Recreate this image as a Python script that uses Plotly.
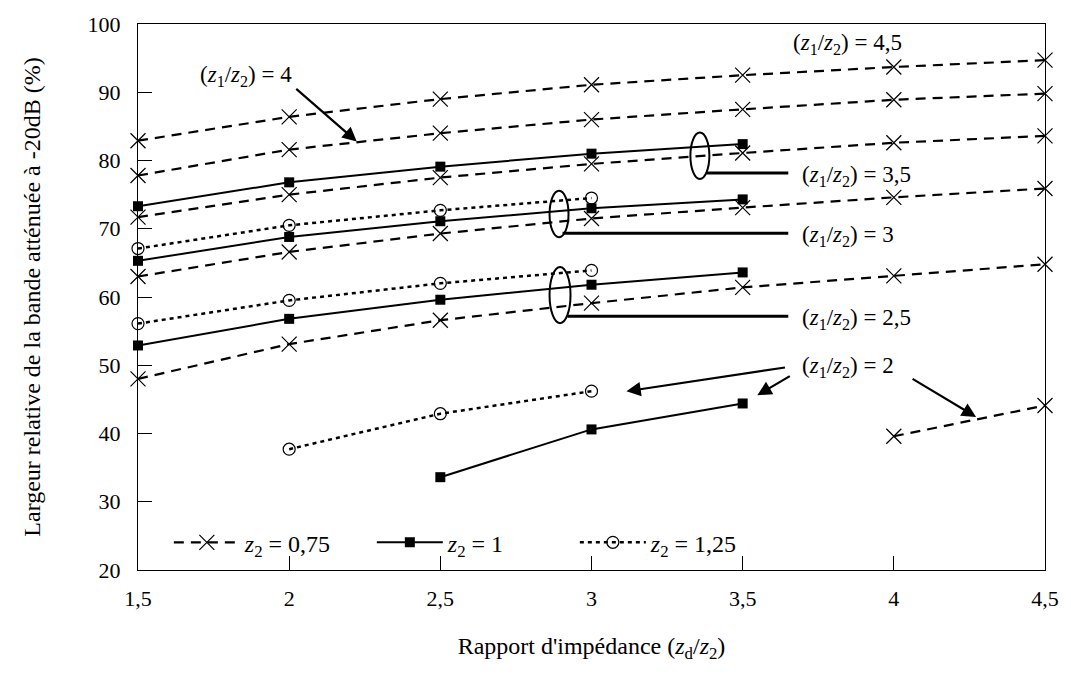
import plotly.graph_objects as go

# ---------------- data ----------------
x_all = [1.5, 2, 2.5, 3, 3.5, 4, 4.5]

# z2 = 0,75 (dashed, crosses) for each z1/z2
d075_45 = [82.9, 86.4, 89.0, 91.1, 92.5, 93.7, 94.7]
d075_4 = [77.8, 81.6, 84.0, 86.0, 87.5, 88.9, 89.8]
d075_35 = [71.7, 75.0, 77.5, 79.5, 81.1, 82.6, 83.6]
d075_3 = [63.0, 66.6, 69.3, 71.5, 73.1, 74.6, 75.9]
d075_25 = [48.0, 53.1, 56.6, 59.1, 61.4, 63.1, 64.8]
x075_2 = [4, 4.5]
d075_2 = [39.6, 44.1]

# z2 = 1 (solid, squares)
x1_long = [1.5, 2, 2.5, 3, 3.5]
d1_35 = [73.3, 76.8, 79.1, 81.0, 82.4]
d1_3 = [65.3, 68.8, 71.1, 73.0, 74.3]
d1_25 = [52.9, 56.8, 59.6, 61.8, 63.6]
x1_2 = [2.5, 3, 3.5]
d1_2 = [33.6, 40.6, 44.4]

# z2 = 1,25 (dotted, circles)
x125_long = [1.5, 2, 2.5, 3]
d125_3 = [67.1, 70.5, 72.7, 74.5]
d125_25 = [56.1, 59.5, 62.0, 63.9]
x125_2 = [2, 2.5, 3]
d125_2 = [37.7, 42.9, 46.2]

x_ticks = [1.5, 2, 2.5, 3, 3.5, 4, 4.5]
x_ticktext = ["1,5", "2", "2,5", "3", "3,5", "4", "4,5"]
y_ticks = [20, 30, 40, 50, 60, 70, 80, 90, 100]

FONT = "Liberation Serif"

# ---------------- layout geometry helpers (for annotations) ----------------
L, R, T, B = 138, 25, 17, 105
W, H = 1071, 675
X0, X1 = 1.5, 4.5
Y0, Y1 = 20, 100
PW, PH = W - L - R, H - T - B


def px2x(px):
    return X0 + (px - L) / PW * (X1 - X0)


def py2y(py):
    return Y0 + (T + PH - py) / PH * (Y1 - Y0)


fig = go.Figure()

dash_075 = "10px,7px"
dot_125 = "4px,4px"


def add(xs, ys, kind, show):
    if kind == "075":
        fig.add_trace(go.Scatter(
            x=xs, y=ys, mode="lines+markers", cliponaxis=False,
            line=dict(color="black", width=2.2, dash=dash_075),
            marker=dict(symbol="x-thin", size=15, line=dict(color="black", width=1.2)),
            name="<i>z</i><sub>2</sub> = 0,75", legendgroup="075", showlegend=show))
    elif kind == "1":
        fig.add_trace(go.Scatter(
            x=xs, y=ys, mode="lines+markers", cliponaxis=False,
            line=dict(color="black", width=2),
            marker=dict(symbol="square", size=10, color="black"),
            name="<i>z</i><sub>2</sub> = 1", legendgroup="1", showlegend=show))
    else:
        fig.add_trace(go.Scatter(
            x=xs, y=ys, mode="lines+markers", cliponaxis=False,
            line=dict(color="black", width=2.5, dash=dot_125),
            marker=dict(symbol="circle-open", size=12, color="black", line=dict(width=1.2)),
            name="<i>z</i><sub>2</sub> = 1,25", legendgroup="125", showlegend=show))


add(x_all, d075_45, "075", True)
add(x_all, d075_4, "075", False)
add(x_all, d075_35, "075", False)
add(x_all, d075_3, "075", False)
add(x_all, d075_25, "075", False)
add(x075_2, d075_2, "075", False)

add(x1_long, d1_35, "1", True)
add(x1_long, d1_3, "1", False)
add(x1_long, d1_25, "1", False)
add(x1_2, d1_2, "1", False)

add(x125_long, d125_3, "125", True)
add(x125_long, d125_25, "125", False)
add(x125_2, d125_2, "125", False)

# ---------------- annotations ----------------
def lab(val):
    return "(<i>z</i><sub>1</sub>/<i>z</i><sub>2</sub>) = " + val


labels = [("4", 198, 70), ("4,5", 792, 37), ("3,5", 801, 171), ("3", 801, 232),
          ("2,5", 801, 316), ("2", 801, 364)]
annots = []
for v, px, py in labels:
    annots.append(dict(x=px2x(px), y=py2y(py), xref="x", yref="y", text=lab(v),
                       showarrow=False, xanchor="left", yanchor="middle",
                       font=dict(family=FONT, size=23, color="black")))

arrows = [((357, 136), (295, 82)), ((627, 389), (787, 365)),
          ((758, 393), (792, 373)), ((977, 415), (912, 376))]
for (hx, hy), (tx, ty) in arrows:
    annots.append(dict(x=px2x(hx), y=py2y(hy), xref="x", yref="y", text="",
                       showarrow=True, ax=tx - hx, ay=ty - hy, arrowhead=2,
                       arrowsize=1.3, arrowwidth=2.2, arrowcolor="black", standoff=0))

shapes = []
ellipses = [(691, 710, 127, 174), (550, 569, 186, 233), (550, 571, 263, 320)]
for ex0, ex1, ey0, ey1 in ellipses:
    shapes.append(dict(type="circle", xref="x", yref="y", x0=px2x(ex0), x1=px2x(ex1),
                       y0=py2y(ey0), y1=py2y(ey1), line=dict(color="black", width=2)))
leaders = [(707, 168, 789), (563, 229, 789), (568, 313, 789)]
for lx0, ly, lx1 in leaders:
    shapes.append(dict(type="line", xref="x", yref="y", x0=px2x(lx0), x1=px2x(lx1),
                       y0=py2y(ly), y1=py2y(ly), line=dict(color="black", width=3)))

fig.update_layout(
    width=W, height=H,
    margin=dict(l=L, r=R, t=T, b=B),
    paper_bgcolor="white", plot_bgcolor="white",
    font=dict(family=FONT, size=22, color="black"),
    showlegend=True,
    legend=dict(orientation="h", x=0.034, y=0.05, xanchor="left", yanchor="middle",
                bgcolor="rgba(0,0,0,0)", itemwidth=66, entrywidth=122,
                font=dict(family=FONT, size=24), traceorder="normal"),
    annotations=annots,
    shapes=shapes,
    xaxis=dict(range=[X0, X1], tickvals=x_ticks, ticktext=x_ticktext,
               showgrid=False, zeroline=False, showline=True, linecolor="black",
               linewidth=1, mirror=True, ticks="inside", ticklen=14, tickcolor="black",
               tickfont=dict(family=FONT, size=22), ticklabelstandoff=9,
               title=dict(text="Rapport d'impédance (<i>z</i><sub>d</sub>/<i>z</i><sub>2</sub>)",
                          font=dict(family=FONT, size=24), standoff=26)),
    yaxis=dict(range=[Y0, Y1], tickvals=y_ticks, showgrid=False, zeroline=False,
               showline=True, linecolor="black", linewidth=1, mirror=True,
               ticks="inside", ticklen=14, tickcolor="black",
               tickfont=dict(family=FONT, size=22), ticklabelstandoff=12,
               title=dict(text="Largeur relative de la bande atténuée à -20dB (%)",
                          font=dict(family=FONT, size=24), standoff=40)),
)

fig.write_html("out.html")
